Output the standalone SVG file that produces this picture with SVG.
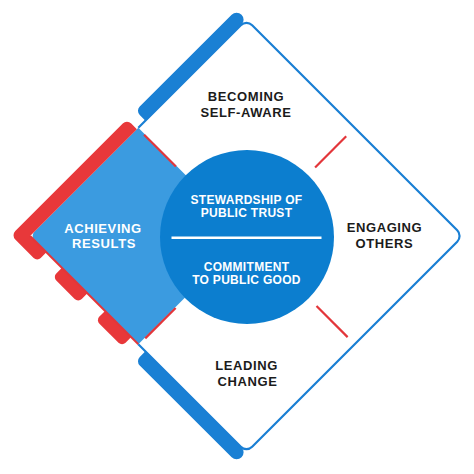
<svg xmlns="http://www.w3.org/2000/svg" width="474" height="474" viewBox="0 0 474 474">
  <style>
    .lbl { font-family: "Liberation Sans", Arial, sans-serif; font-weight: bold; font-size: 13px; letter-spacing: 0.6px; text-anchor: middle; fill: #1b1b1b; }
    .lbl-w { fill: #ffffff; }
    .core { font-family: "Liberation Sans", Arial, sans-serif; font-weight: bold; font-size: 12px; letter-spacing: 0.3px; text-anchor: middle; fill: #ffffff; }
    .outline { fill: none; stroke: #1a7fd4; stroke-width: 2.2; }
    .bar-blue { fill: #1a80d4; }
    .bar-red { fill: #e8383a; }
    .divider { stroke: #e3363a; stroke-width: 2.2; fill: none; }
  </style>
  <rect width="474" height="474" fill="#ffffff"/>

  <!-- diamond frame, drawn in a rotated local frame -->
  <g id="frame" transform="translate(246.5 236) rotate(45)">
    <!-- light blue quadrant -->
    <g id="node-achieving-shape">
      <path d="M -153 0 L 0 0 L 0 153 L -147 153 A 6 6 0 0 1 -153 147 Z" fill="#3b9be0"/>
    </g>
    <!-- red bar + tabs -->
    <path class="bar-red" d="M -153 2 L -153 153 L -130 153 L -130 161 A 5 5 0 0 1 -135 166 L -161 166 A 6 6 0 0 1 -167 160 L -167 8 A 6 6 0 0 1 -161 2 Z"/>
    <path class="bar-red" d="M -108 153 L -72 153 L -72 161 A 5 5 0 0 1 -77 166 L -103 166 A 5 5 0 0 1 -108 161 Z"/>
    <path class="bar-red" d="M -47 153 L -10 153 L -10 161 A 5 5 0 0 1 -15 166 L -42 166 A 5 5 0 0 1 -47 161 Z"/>
    <line x1="-153" y1="153" x2="0" y2="153" stroke="#e3363a" stroke-width="2"/>
    <!-- blue bars -->
    <path class="bar-blue" d="M -153 -10 L -153 -146 A 7 7 0 0 0 -160 -153 A 7 7 0 0 0 -167 -146 L -167 -16 A 6 6 0 0 0 -161 -10 Z"/>
    <path class="bar-blue" d="M 10 153 L 146 153 A 7 7 0 0 1 153 160 A 7 7 0 0 1 146 167 L 16 167 A 6 6 0 0 1 10 161 Z"/>
    <!-- thin outline -->
    <path class="outline" d="M -153 0 L -153 -145 A 8 8 0 0 1 -145 -153 L 145 -153 A 8 8 0 0 1 153 -145 L 153 145 A 8 8 0 0 1 145 153 L 0 153"/>
  </g>

  <!-- red dividers between quadrants -->
  <g id="connectors" transform="translate(246.5 236) rotate(45)">
    <line class="divider" x1="0" y1="-97" x2="0" y2="-141"/>
    <line class="divider" x1="99" y1="0" x2="143" y2="0"/>
    <line class="divider" x1="0.8" y1="101" x2="0.8" y2="144"/>
    <line class="divider" x1="-99" y1="0.8" x2="-144" y2="0.8"/>
  </g>

  <g id="node-core">
    <circle cx="247" cy="237" r="87" fill="#0c7ecf"/>
    <line x1="171.5" y1="237.7" x2="321.5" y2="237.7" stroke="#ffffff" stroke-width="2.4"/>
    <text class="core" x="246.5" y="204.3">STEWARDSHIP OF</text>
    <text class="core" x="246.5" y="217.3">PUBLIC TRUST</text>
    <text class="core" x="246.5" y="271">COMMITMENT</text>
    <text class="core" x="246.5" y="284.3">TO PUBLIC GOOD</text>
  </g>

  <g id="node-becoming">
    <text class="lbl" x="246" y="100.7">BECOMING</text>
    <text class="lbl" x="246" y="116.7">SELF-AWARE</text>
  </g>
  <g id="node-engaging">
    <text class="lbl" x="384.5" y="232">ENGAGING</text>
    <text class="lbl" x="384.5" y="248.3">OTHERS</text>
  </g>
  <g id="node-leading">
    <text class="lbl" x="246.5" y="370">LEADING</text>
    <text class="lbl" x="247.5" y="385.7">CHANGE</text>
  </g>
  <g id="node-achieving">
    <text class="lbl lbl-w" x="103" y="232.7">ACHIEVING</text>
    <text class="lbl lbl-w" x="104" y="248.3">RESULTS</text>
  </g>
</svg>
